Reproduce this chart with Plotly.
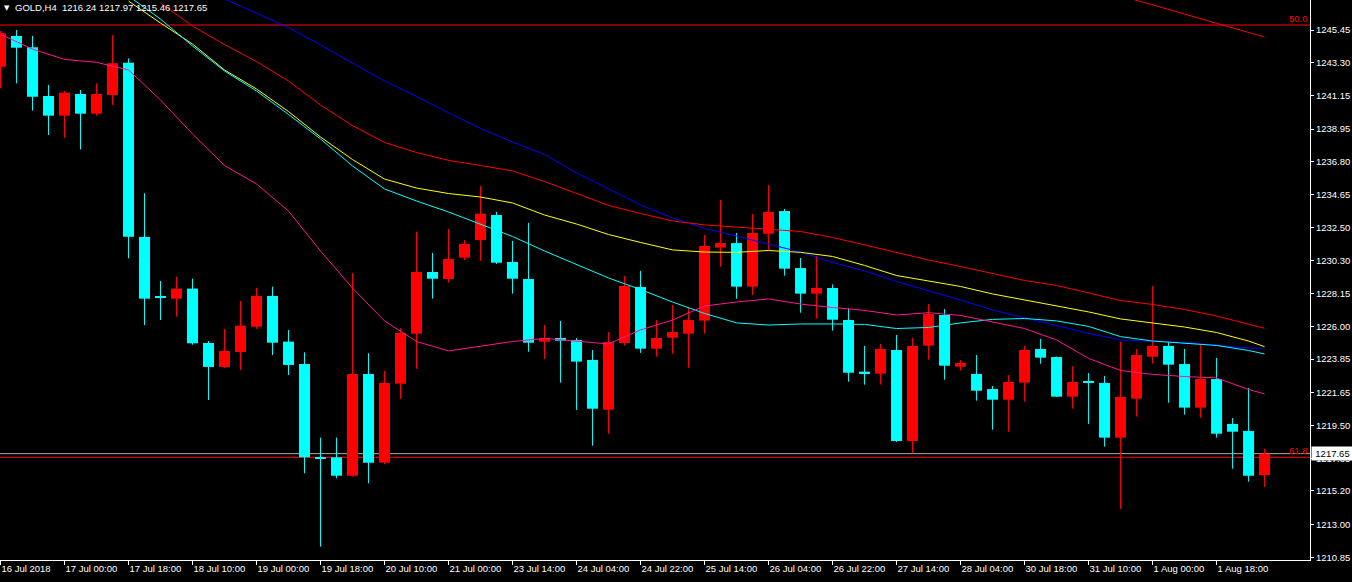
import plotly.graph_objects as go

# ---------------- data ----------------
x_labels = ["16 Jul 2018", "17 Jul 00:00", "17 Jul 18:00", "18 Jul 10:00", "19 Jul 00:00",
            "19 Jul 18:00", "20 Jul 10:00", "21 Jul 00:00", "23 Jul 14:00", "24 Jul 04:00",
            "24 Jul 22:00", "25 Jul 14:00", "26 Jul 04:00", "26 Jul 22:00", "27 Jul 14:00",
            "28 Jul 04:00", "30 Jul 18:00", "31 Jul 10:00", "1 Aug 00:00", "1 Aug 18:00"]
x_label_bars = list(range(0, 80, 4))

y_ticks = [1245.45, 1243.30, 1241.15, 1238.95, 1236.80, 1234.65, 1232.50, 1230.30, 1228.15,
           1226.00, 1223.85, 1221.65, 1219.50, 1217.35, 1215.20, 1213.00, 1210.85]

opens = [1243.04, 1245.06, 1244.32, 1241.12, 1239.83, 1241.25, 1239.96, 1241.19, 1243.31, 1231.87,
         1227.91, 1227.82, 1228.48, 1224.91, 1223.34, 1224.32, 1225.98, 1228.00, 1225.00, 1223.53,
         1217.37, 1217.41, 1216.20, 1222.88, 1217.06, 1222.24, 1225.52, 1229.57, 1229.11, 1230.51,
         1231.67, 1233.31, 1230.23, 1229.11, 1225.00, 1225.24, 1225.11, 1223.80, 1220.53, 1224.91,
         1228.59, 1224.54, 1225.26, 1225.52, 1226.38, 1231.17, 1231.47, 1228.61, 1232.08, 1233.57,
         1229.83, 1228.15, 1228.52, 1226.42, 1223.03, 1222.90, 1224.45, 1218.48, 1224.74, 1226.75,
         1223.36, 1222.88, 1221.89, 1221.19, 1222.31, 1224.52, 1223.99, 1221.39, 1222.42, 1222.29,
         1218.70, 1221.26, 1224.01, 1224.72, 1223.53, 1220.67, 1222.55, 1219.60, 1219.14, 1216.24]

highs = [1245.39, 1245.45, 1245.06, 1241.84, 1241.45, 1241.51, 1241.95, 1245.12, 1243.59, 1234.74,
         1228.98, 1229.26, 1229.13, 1225.04, 1225.83, 1227.67, 1228.54, 1228.61, 1225.77, 1224.30,
         1218.70, 1218.70, 1229.49, 1224.24, 1223.08, 1225.88, 1232.22, 1230.82, 1232.39, 1231.67,
         1235.22, 1233.51, 1231.61, 1232.79, 1226.09, 1226.36, 1225.24, 1224.45, 1225.63, 1229.31,
         1229.64, 1226.42, 1227.41, 1227.28, 1232.00, 1234.30, 1232.13, 1233.38, 1235.28, 1233.71,
         1230.49, 1230.62, 1228.76, 1227.19, 1224.72, 1224.85, 1225.44, 1225.24, 1227.47, 1227.14,
         1223.80, 1224.12, 1222.09, 1222.81, 1224.72, 1225.18, 1224.02, 1223.40, 1222.94, 1222.75,
         1225.00, 1224.52, 1228.65, 1224.98, 1224.52, 1224.78, 1223.93, 1219.99, 1221.96, 1217.97]

lows = [1241.63, 1241.95, 1240.16, 1238.56, 1238.38, 1237.62, 1239.83, 1240.53, 1230.47, 1226.09,
        1226.42, 1226.64, 1224.80, 1221.17, 1223.27, 1223.14, 1225.83, 1224.12, 1222.81, 1216.36,
        1211.55, 1216.03, 1216.14, 1215.71, 1216.95, 1221.24, 1223.21, 1227.82, 1228.87, 1230.36,
        1230.31, 1230.10, 1228.15, 1224.34, 1223.86, 1222.31, 1220.52, 1218.17, 1218.96, 1224.74,
        1224.26, 1224.01, 1224.21, 1223.29, 1225.52, 1229.92, 1227.82, 1228.06, 1231.02, 1229.33,
        1226.90, 1226.51, 1225.72, 1222.37, 1222.18, 1222.18, 1218.42, 1217.67, 1223.82, 1222.50,
        1223.10, 1221.13, 1219.22, 1219.09, 1221.06, 1223.55, 1221.37, 1220.60, 1219.60, 1218.11,
        1214.02, 1220.08, 1223.55, 1220.99, 1220.21, 1220.01, 1218.70, 1216.66, 1215.81, 1215.46]

closes = [1245.24, 1244.29, 1241.07, 1239.83, 1241.34, 1239.96, 1241.25, 1243.27, 1231.89, 1227.82,
          1227.87, 1228.48, 1224.89, 1223.34, 1224.39, 1226.05, 1228.00, 1224.93, 1223.47, 1217.41,
          1217.32, 1216.20, 1222.88, 1217.06, 1222.29, 1225.57, 1229.57, 1229.13, 1230.42, 1231.41,
          1233.40, 1230.18, 1229.13, 1224.93, 1225.22, 1225.06, 1223.69, 1220.60, 1224.98, 1228.65,
          1224.54, 1225.24, 1225.63, 1226.42, 1231.28, 1231.47, 1228.61, 1232.13, 1233.51, 1229.79,
          1228.15, 1228.52, 1226.44, 1222.96, 1222.90, 1224.52, 1218.48, 1224.72, 1226.81, 1223.42,
          1223.60, 1221.78, 1221.19, 1222.35, 1224.45, 1223.95, 1221.39, 1222.35, 1222.31, 1218.70,
          1221.37, 1224.12, 1224.72, 1223.49, 1220.67, 1222.55, 1218.96, 1219.09, 1216.20, 1217.65]

# moving averages, sampled at bar indices
ma_pink_x = list(range(0, 80, 2)) + [79]
ma_pink = [1245.17, 1244.20, 1243.52, 1243.33, 1242.83, 1240.86, 1238.63, 1236.56, 1235.35, 1233.57,
           1230.95, 1228.52, 1226.36, 1225.01, 1224.39, 1224.72, 1225.01, 1225.21, 1225.01, 1224.85,
           1225.77, 1226.42, 1227.34, 1227.60, 1227.80, 1227.47, 1227.24, 1227.05, 1226.75, 1226.90,
           1226.72, 1226.29, 1225.86, 1225.11, 1223.90, 1223.11, 1222.85, 1222.71, 1222.62, 1221.86,
           1221.57]

ma_cyan_x = list(range(8, 80, 2)) + [79]
ma_cyan = [1247.68, 1246.17, 1244.40, 1242.76, 1241.45, 1239.91, 1238.30, 1236.53, 1235.02, 1234.23,
           1233.51, 1232.72, 1231.90, 1230.95, 1230.06, 1229.18, 1228.42, 1227.60, 1226.85, 1226.23,
           1226.09, 1226.16, 1226.16, 1226.13, 1225.86, 1225.93, 1226.23, 1226.46, 1226.52, 1226.36,
           1226.00, 1225.33, 1225.04, 1224.88, 1224.75, 1224.42, 1224.19]

ma_yellow_x = list(range(8, 80, 2)) + [79]
ma_yellow = [1247.35, 1245.91, 1244.53, 1242.83, 1241.58, 1240.10, 1238.43, 1236.95, 1235.67, 1235.08,
             1234.72, 1234.49, 1234.10, 1233.31, 1232.72, 1232.03, 1231.51, 1231.02, 1230.88, 1230.86,
             1230.98, 1230.86, 1230.59, 1230.00, 1229.34, 1228.98, 1228.62, 1228.13, 1227.73, 1227.37,
             1226.95, 1226.49, 1226.24, 1225.96, 1225.60, 1225.04, 1224.67]

ma_red_x = list(range(10, 80, 2)) + [79]
ma_red = [1247.22, 1245.71, 1244.50, 1243.38, 1242.10, 1240.53, 1239.18, 1238.07, 1237.41, 1236.90,
          1236.56, 1236.20, 1235.51, 1234.72, 1233.94, 1233.41, 1232.92, 1232.66, 1232.52, 1232.39,
          1232.23, 1231.84, 1231.34, 1230.82, 1230.36, 1229.93, 1229.47, 1229.01, 1228.69, 1228.19,
          1227.70, 1227.44, 1227.11, 1226.68, 1226.13, 1225.88]

ma_blue_x = list(range(14, 80, 2)) + [79]
ma_blue = [1247.49, 1246.57, 1245.62, 1244.47, 1243.29, 1242.10, 1241.09, 1240.01, 1238.99, 1238.10,
           1237.28, 1236.07, 1235.02, 1233.97, 1233.12, 1232.43, 1231.93, 1231.41, 1230.88, 1230.20,
           1229.64, 1228.95, 1228.36, 1227.73, 1227.08, 1226.55, 1226.03, 1225.54, 1225.11, 1225.01,
           1224.95, 1224.76, 1224.58, 1224.57]

ma_slow_x = [70, 71, 72, 74, 76, 78, 79]
ma_slow = [1247.70, 1247.39, 1247.11, 1246.50, 1245.89, 1245.29, 1244.99]

fib_50 = 1245.78
fib_618 = 1217.41
bid_price = 1217.65
title_text = "GOLD,H4  1216.24 1217.97 1215.46 1217.65"

# ---------------- styling ----------------
BULL = "#FF0000"
BEAR = "#00FFFF"
FONT = "Liberation Sans, Arial, sans-serif"
BODY_W = 0.6875
MIN_BODY = 0.07

fig = go.Figure()

# wicks
for color, cond in ((BULL, lambda o, c: c >= o), (BEAR, lambda o, c: c < o)):
    wx, wy = [], []
    for i, (o, h, l, c) in enumerate(zip(opens, highs, lows, closes)):
        if cond(o, c):
            wx += [i, i, None]
            wy += [l, h, None]
    fig.add_trace(go.Scatter(x=wx, y=wy, mode="lines", line=dict(color=color, width=1),
                             hoverinfo="skip"))

# bodies
for color, cond in ((BULL, lambda o, c: c >= o), (BEAR, lambda o, c: c < o)):
    bx, bb, bh = [], [], []
    for i, (o, c) in enumerate(zip(opens, closes)):
        if cond(o, c):
            bx.append(i)
            bb.append(min(o, c))
            bh.append(max(abs(c - o), MIN_BODY))
    fig.add_trace(go.Bar(x=bx, y=bh, base=bb, width=BODY_W, marker=dict(color=color, line=dict(width=0)),
                         hoverinfo="skip"))

# moving averages
for xs, ys, col in ((ma_slow_x, ma_slow, "#FF0000"),
                    (ma_blue_x, ma_blue, "#0000FF"),
                    (ma_red_x, ma_red, "#FF0000"),
                    (ma_yellow_x, ma_yellow, "#FFFF00"),
                    (ma_cyan_x, ma_cyan, "#00FFFF"),
                    (ma_pink_x, ma_pink, "#FF1493")):
    fig.add_trace(go.Scatter(x=xs, y=ys, mode="lines", line=dict(color=col, width=1),
                             hoverinfo="skip", cliponaxis=True))

# horizontal levels (background objects)
shapes = [
    dict(type="line", xref="paper", x0=0, x1=1, yref="y", y0=fib_50, y1=fib_50,
         line=dict(color="#FF0000", width=1), layer="below"),
    dict(type="line", xref="paper", x0=0, x1=1, yref="y", y0=fib_618, y1=fib_618,
         line=dict(color="#FF0000", width=1), layer="below"),
    dict(type="line", xref="paper", x0=0, x1=1, yref="y", y0=bid_price, y1=bid_price,
         line=dict(color="#A8A8A8", width=1), layer="below"),
]

annotations = [
    dict(xref="paper", x=0, xanchor="left", xshift=2, yref="paper", y=1, yanchor="top", yshift=-2,
         text="▼", showarrow=False, font=dict(family="DejaVu Sans", size=7, color="#FFFFFF")),
    dict(xref="paper", x=0, xanchor="left", xshift=13, yref="paper", y=1, yanchor="top", yshift=0,
         text=title_text, showarrow=False, font=dict(family=FONT, size=9.5, color="#FFFFFF")),
    dict(xref="paper", x=1, xanchor="right", xshift=0, yref="y", y=fib_50, yanchor="bottom", yshift=-1,
         text="50.0", showarrow=False, font=dict(family=FONT, size=9.5, color="#FF0000")),
    dict(xref="paper", x=1, xanchor="right", xshift=0, yref="y", y=fib_618, yanchor="bottom", yshift=-1,
         text="61.8", showarrow=False, font=dict(family=FONT, size=9.5, color="#FF0000")),
    dict(xref="paper", x=1, xanchor="left", xshift=1, yref="y", y=bid_price, yanchor="middle",
         text=f"{bid_price:.2f}", showarrow=False, bgcolor="#FFFFFF", borderpad=1, width=39,
         align="center", font=dict(family=FONT, size=9.5, color="#000000")),
]

fig.update_layout(
    width=1352, height=582,
    margin=dict(l=0, r=42, t=0, b=22, pad=0),
    paper_bgcolor="#000000", plot_bgcolor="#000000",
    showlegend=False, barmode="overlay", hovermode=False,
    shapes=shapes, annotations=annotations,
    xaxis=dict(range=[-0.031, 81.84], tickmode="array", tickvals=x_label_bars, ticktext=x_labels,
               ticks="outside", ticklen=4, tickcolor="#FFFFFF", tickwidth=1,
               ticklabelposition="outside right",
               showline=True, linecolor="#FFFFFF", linewidth=1, showgrid=False, zeroline=False,
               tickfont=dict(family=FONT, size=9.5, color="#FFFFFF"), automargin=False,
               fixedrange=True),
    yaxis=dict(range=[1210.67, 1247.42], side="right", tickmode="array", tickvals=y_ticks,
               ticktext=[f"{v:.2f}" for v in y_ticks],
               ticks="outside", ticklen=3, tickcolor="#FFFFFF", tickwidth=1,
               showline=True, linecolor="#FFFFFF", linewidth=1, showgrid=False, zeroline=False,
               tickfont=dict(family=FONT, size=9.5, color="#FFFFFF"), automargin=False,
               fixedrange=True),
)

fig.write_html("out.html", config={"displayModeBar": False},
               post_script="document.body.style.margin='0';document.body.style.overflow='hidden';"
                           "document.documentElement.style.background='#000';")
